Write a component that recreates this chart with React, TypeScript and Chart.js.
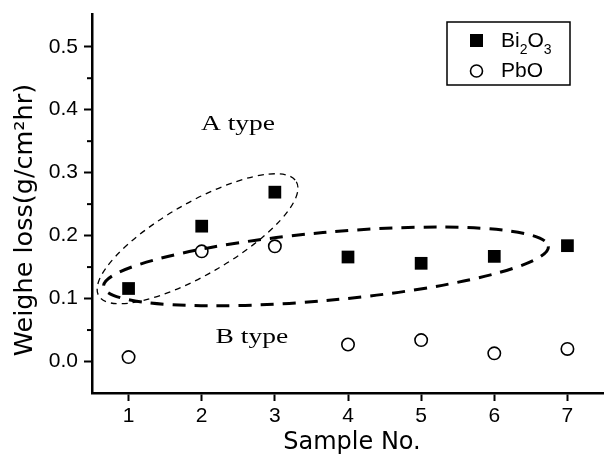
import React, { useEffect, useRef } from "react";
import { Chart, registerables } from "chart.js";

Chart.register(...registerables);

// ---- data ----
const sampleNos = [1, 2, 3, 4, 5, 6, 7];
const bi2o3Loss = [0.116, 0.215, 0.269, 0.166, 0.156, 0.167, 0.184];
const pboLoss = [0.007, 0.175, 0.183, 0.027, 0.034, 0.013, 0.02];
const xTickValues = [1, 2, 3, 4, 5, 6, 7];
const yTickValues = [0, 0.1, 0.2, 0.3, 0.4, 0.5];
const yMinorTickValues = [0.05, 0.15, 0.25, 0.35, 0.45];
const seriesNames = ["Bi2O3", "PbO"];
const typeLabels = ["A type", "B type"];
// text anchors (left, baseline) in data units
const typeLabelX = [1.99, 2.19];
const typeLabelY = [0.368, 0.03];
// dashed ellipse major-axis end points in data units: [x1, y1, x2, y2]
const ellipseA = [0.616, 0.106, 3.27, 0.284];
const ellipseB = [0.658, 0.119, 6.74, 0.183];

const SANS = "'DejaVu Sans', sans-serif";
const ARIAL = "'Liberation Sans', Arial, sans-serif";
const SERIF = "'Liberation Serif', 'Times New Roman', serif";

const overlayPlugin = {
  id: "overlay",
  beforeDatasetsDraw(chart: any) {
    const ctx = chart.ctx;
    const xs = chart.scales.x;
    const ys = chart.scales.y;
    const drawEllipse = (e: number[], b: number, extra: number, lw: number, dash: number[]) => {
      const x1 = xs.getPixelForValue(e[0]);
      const y1 = ys.getPixelForValue(e[1]);
      const x2 = xs.getPixelForValue(e[2]);
      const y2 = ys.getPixelForValue(e[3]);
      const cx = (x1 + x2) / 2;
      const cy = (y1 + y2) / 2;
      const a = Math.hypot(x2 - x1, y2 - y1) / 2 + extra;
      const ang = Math.atan2(y2 - y1, x2 - x1);
      ctx.save();
      ctx.beginPath();
      ctx.ellipse(cx, cy, a, b, ang, 0, Math.PI * 2);
      ctx.setLineDash(dash);
      ctx.lineWidth = lw;
      ctx.strokeStyle = "#000";
      ctx.stroke();
      ctx.restore();
    };
    drawEllipse(ellipseA, 36, 2, 1.3, [6, 5]);
    drawEllipse(ellipseB, 34, 0, 3, [13, 9]);
  },
  afterDraw(chart: any) {
    const ctx = chart.ctx;
    const xs = chart.scales.x;
    const ys = chart.scales.y;
    const area = chart.chartArea;
    ctx.save();
    ctx.fillStyle = "#000";
    ctx.strokeStyle = "#000";

    // minor y ticks
    ctx.lineWidth = 2;
    yMinorTickValues.forEach((v) => {
      const py = ys.getPixelForValue(v);
      ctx.beginPath();
      ctx.moveTo(area.left - 5, py);
      ctx.lineTo(area.left, py);
      ctx.stroke();
    });

    // type labels (stretched serif)
    typeLabels.forEach((t, i) => {
      const px = xs.getPixelForValue(typeLabelX[i]);
      const py = ys.getPixelForValue(typeLabelY[i]);
      ctx.save();
      ctx.translate(px, py);
      ctx.scale(1.25, 1);
      ctx.font = `22px ${SERIF}`;
      ctx.textAlign = "left";
      ctx.textBaseline = "alphabetic";
      ctx.fillText(t, 0, 0);
      ctx.restore();
    });

    // axis titles
    ctx.save();
    ctx.font = `25.5px ${SANS}`;
    ctx.textAlign = "center";
    ctx.textBaseline = "alphabetic";
    ctx.translate(32, 220);
    ctx.rotate(-Math.PI / 2);
    ctx.fillText("Weighe loss(g/cm\u00B2hr)", 0, 0);
    ctx.restore();

    ctx.font = `24px ${SANS}`;
    ctx.textAlign = "center";
    ctx.textBaseline = "alphabetic";
    ctx.fillText("Sample No.", 352, 449);

    // legend
    const bx = 447, by = 22, bw = 123, bh = 63;
    ctx.lineWidth = 1.5;
    ctx.setLineDash([]);
    ctx.strokeRect(bx, by, bw, bh);
    // square marker
    ctx.fillRect(470, 34, 13, 13);
    // circle marker
    ctx.beginPath();
    ctx.arc(476.5, 71, 6, 0, Math.PI * 2);
    ctx.lineWidth = 1.6;
    ctx.stroke();

    ctx.textAlign = "left";
    const drawChem = (txt: string, x: number, y: number) => {
      let cx = x;
      for (const ch of txt) {
        if (ch >= "0" && ch <= "9") {
          ctx.font = `14px ${ARIAL}`;
          ctx.fillText(ch, cx, y + 7);
          cx += ctx.measureText(ch).width;
        } else {
          ctx.font = `21px ${ARIAL}`;
          ctx.fillText(ch, cx, y);
          cx += ctx.measureText(ch).width;
        }
      }
    };
    drawChem(seriesNames[0], 501, 47);
    drawChem(seriesNames[1], 501, 77);
    ctx.restore();
  },
};

export default function App() {
  const ref = useRef<HTMLCanvasElement | null>(null);
  useEffect(() => {
    document.body.style.margin = "0";
    const canvas = ref.current;
    if (!canvas) return;
    const chart = new Chart(canvas, {
      type: "scatter",
      data: {
        datasets: [
          {
            label: seriesNames[0],
            data: sampleNos.map((x, i) => ({ x, y: bi2o3Loss[i] })),
            pointStyle: "rect",
            pointRadius: 9,
            pointBorderWidth: 0,
            backgroundColor: "#000",
            borderColor: "#000",
          },
          {
            label: seriesNames[1],
            data: sampleNos.map((x, i) => ({ x, y: pboLoss[i] })),
            pointStyle: "circle",
            pointRadius: 6.2,
            pointBorderWidth: 1.6,
            backgroundColor: "rgba(255,255,255,0)",
            borderColor: "#000",
          },
        ],
      },
      options: {
        responsive: false,
        animation: false,
        layout: { autoPadding: false, padding: { top: 14, right: 0, left: 0, bottom: 0 } },
        plugins: {
          legend: { display: false },
          tooltip: { enabled: false },
          title: { display: false },
        },
        scales: {
          x: {
            type: "linear",
            min: 0.5,
            max: 7.5,
            afterBuildTicks: (s: any) => {
              s.ticks = xTickValues.map((v) => ({ value: v }));
            },
            afterFit: (s: any) => {
              s.height = 67;
              s.paddingLeft = 0;
              s.paddingRight = 0;
              s.paddingTop = 0;
              s.paddingBottom = 0;
            },
            border: { display: true, color: "#000", width: 2.5 },
            grid: {
              display: true,
              drawOnChartArea: false,
              drawTicks: true,
              tickLength: 8,
              tickWidth: 2,
              tickColor: "#000",
            },
            ticks: {
              color: "#000",
              font: { family: ARIAL, size: 21 },
              padding: 3,
              maxRotation: 0,
              autoSkip: false,
              callback: (v: any) => String(v),
            },
          },
          y: {
            type: "linear",
            min: -0.05,
            max: 0.552,
            afterBuildTicks: (s: any) => {
              s.ticks = yTickValues.map((v) => ({ value: v }));
            },
            afterFit: (s: any) => {
              s.width = 92;
              s.paddingLeft = 0;
              s.paddingRight = 0;
              s.paddingTop = 0;
              s.paddingBottom = 0;
            },
            border: { display: true, color: "#000", width: 2.5 },
            grid: {
              display: true,
              drawOnChartArea: false,
              drawTicks: true,
              tickLength: 8,
              tickWidth: 2,
              tickColor: "#000",
            },
            ticks: {
              color: "#000",
              font: { family: ARIAL, size: 21 },
              padding: 6,
              autoSkip: false,
              callback: (v: any) => Number(v).toFixed(1),
            },
          },
        },
      },
      plugins: [overlayPlugin],
    });
    return () => chart.destroy();
  }, []);
  return (
    <canvas
      ref={ref}
      width={604}
      height={460}
      style={{ display: "block", width: 604, height: 460 }}
    />
  );
}
